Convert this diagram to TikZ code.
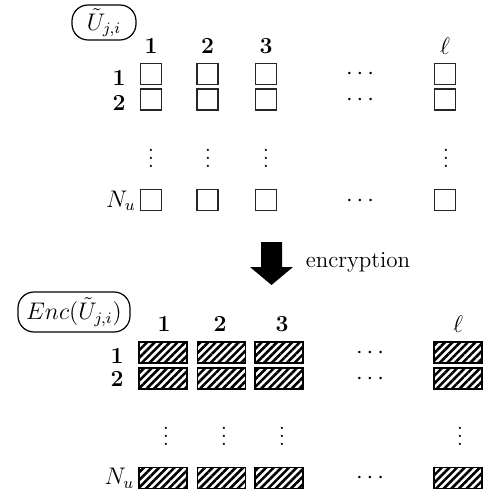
\documentclass[tikz,border=0pt]{standalone}
\usetikzlibrary{patterns.meta}
\begin{document}
\begin{tikzpicture}[x=0.5pt,y=-0.5pt,
  every node/.style={font=\fontsize{11.5}{13.5}\selectfont},
  lbl/.style={inner sep=0pt},
  cell/.style={draw=black!85, line width=0.55pt, minimum width=10.5pt,
    minimum height=10.5pt, inner sep=0pt},
  enccell/.style={draw=black, line width=0.6pt, minimum width=24pt,
    minimum height=10.5pt, inner sep=0pt,
    pattern={Lines[angle=45,distance=2.7pt,line width=1.3pt]}},
  tag/.style={draw, rounded corners=8pt, line width=0.6pt, inner sep=0pt},
  bigarrow/.style={fill=black}
]
\useasboundingbox (0,0) rectangle (487,497);

% ---------- plain matrix ----------
\node[tag, minimum width=32pt, minimum height=17.5pt] (tagU) at (104,22.5) {$\tilde{U}_{j,i}$};

\foreach \n/\x in {1/151,2/207.5,3/266}
  \node[lbl] (uh\n) at (\x,46) {\textbf{\n}};
\node[lbl] (uhl) at (445,46) {$\ell$};

\node[lbl] (ur1) at (119,78) {\textbf{1}};
\node[lbl] (ur2) at (119,103) {\textbf{2}};
\node[lbl] (urN) at (121,201) {$N_u$};

\foreach \n/\x in {1/151,2/207.5,3/266,l/445}{
  \node[cell] (u1\n) at (\x,74) {};
  \node[cell] (u2\n) at (\x,99.5) {};
  \node[cell] (uN\n) at (\x,200) {};
}
\foreach \n/\x in {1/151,2/208,3/266,l/446}
  \node[lbl] (uv\n) at (\x,152) {$\vdots$};
\node[lbl] (ud1) at (360,74) {$\cdots$};
\node[lbl] (ud2) at (360,100) {$\cdots$};
\node[lbl] (udN) at (360,201) {$\cdots$};

% ---------- encryption step ----------
\fill[bigarrow] (261,242) -- (282,242) -- (282,267) -- (293,267)
  -- (271.5,285) -- (250,267) -- (261,267) -- cycle;
\node[lbl] (encl) at (358,262) {encryption};

% ---------- encrypted matrix ----------
\node[tag, minimum width=56pt, minimum height=20pt] (tagE) at (74,312) {$Enc(\tilde{U}_{j,i})$};

\foreach \n/\x in {1/164,2/220,3/282}
  \node[lbl] (eh\n) at (\x,324) {\textbf{\n}};
\node[lbl] (ehl) at (458,324) {$\ell$};

\node[lbl] (er1) at (117,356) {\textbf{1}};
\node[lbl] (er2) at (117,379) {\textbf{2}};
\node[lbl] (erN) at (119.5,478) {$N_u$};

\foreach \n/\x in {1/163,2/221.5,3/279,l/458}{
  \node[enccell] (e1\n) at (\x,352.5) {};
  \node[enccell] (e2\n) at (\x,378.5) {};
  \node[enccell] (eN\n) at (\x,478) {};
}
\foreach \n/\x in {1/166,2/224,3/282,l/460}
  \node[lbl] (ev\n) at (\x,430) {$\vdots$};
\node[lbl] (ed1) at (370,353) {$\cdots$};
\node[lbl] (ed2) at (370,379) {$\cdots$};
\node[lbl] (edN) at (370,478) {$\cdots$};
\end{tikzpicture}
\end{document}
